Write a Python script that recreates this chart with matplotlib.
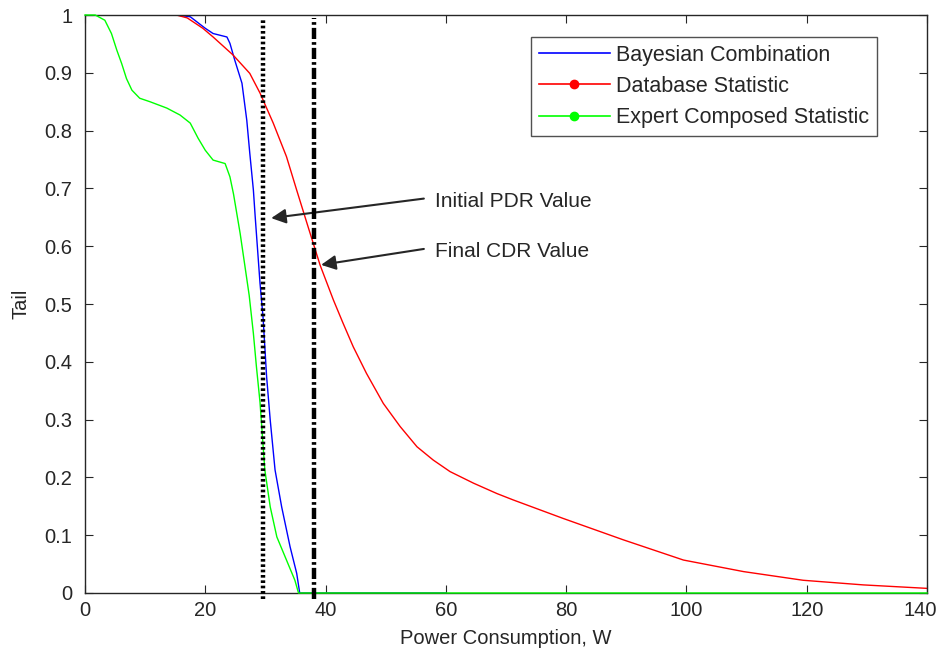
import matplotlib
matplotlib.use("Agg")
import matplotlib.pyplot as plt
from matplotlib.lines import Line2D
from matplotlib.transforms import ScaledTranslation

plt.rcParams['font.family'] = ['Liberation Sans', 'DejaVu Sans']

# Database Statistic (red)
red_x = [0, 15.2, 17, 19.6, 21.3, 24.6, 27.4, 29.1, 31.3, 33.5, 35.2, 37.2, 39.1, 41.3, 42.9,
         44.6, 46.8, 49.6, 52.4, 55.2, 57.9, 60.7, 64.6, 68.5, 71.2, 79.5, 89.5, 99.5, 109.5,
         119.4, 129.4, 140]
red_y = [1, 1, 0.995, 0.977, 0.962, 0.931, 0.899, 0.865, 0.813, 0.755, 0.697, 0.630, 0.567,
         0.507, 0.467, 0.426, 0.380, 0.328, 0.288, 0.253, 0.230, 0.210, 0.190, 0.172, 0.161,
         0.129, 0.092, 0.057, 0.037, 0.022, 0.014, 0.008]

# Bayesian Combination (blue)
blue_x = [0, 15.2, 17.5, 20.0, 21.3, 23.6, 24.1, 24.9, 26.1, 26.9, 27.4, 28.0, 28.3, 29.1,
          29.6, 30.2, 30.8, 31.6, 32.7, 34.1, 35.2, 35.7, 60]
blue_y = [1, 1, 0.997, 0.977, 0.968, 0.962, 0.951, 0.922, 0.882, 0.818, 0.761, 0.697, 0.651, 0.536,
          0.478, 0.374, 0.299, 0.213, 0.149, 0.080, 0.034, 0.0, 0.0]

# Expert Composed Statistic (green)
green_x = [0, 1.7, 3.3, 4.4, 5.3, 6.1, 6.9, 7.8, 9.1, 10.8, 13.6, 15.8, 17.5, 18.8, 20.0, 21.3,
           23.3, 24.1, 24.7, 25.8, 26.6, 27.3, 28.0, 28.5, 29.1, 29.9, 30.8, 31.9, 33.5, 34.9,
           35.5, 140]
green_y = [1, 1, 0.991, 0.968, 0.939, 0.916, 0.890, 0.870, 0.856, 0.850, 0.839, 0.827, 0.813,
           0.787, 0.766, 0.749, 0.743, 0.720, 0.690, 0.622, 0.565, 0.515, 0.449, 0.392, 0.330,
           0.213, 0.149, 0.097, 0.057, 0.022, 0.0, 0.0]

pdr_x = 29.6
cdr_x = 38.1
labels = ['Bayesian Combination', 'Database Statistic', 'Expert Composed Statistic']
ytick_labels = ['0', '0.1', '0.2', '0.3', '0.4', '0.5', '0.6', '0.7', '0.8', '0.9', '1']

fig = plt.figure(figsize=(9.38, 6.53), dpi=100)
ax = fig.add_axes([0.0906, 0.0919, 0.8977, 0.8851])

ax.plot(blue_x, blue_y, color='#0000ff', lw=1.0)
ax.plot(red_x, red_y, color='#ff0000', lw=1.0)
ax.plot(green_x, green_y, color='#00ff00', lw=1.0, clip_on=False, zorder=3)

ax.plot([pdr_x, pdr_x], [-0.01, 0.995], color='black', lw=3.2, linestyle=(0, (0.6, 0.6)),
        clip_on=False, zorder=4)
ax.plot([cdr_x, cdr_x], [-0.01, 0.995], color='black', lw=3.2, linestyle=(0, (2.5, 0.7, 0.6, 0.7)),
        clip_on=False, zorder=4)

ax.annotate('', xy=(30.5, 0.648), xytext=(56.8, 0.683),
            arrowprops=dict(arrowstyle='-|>', mutation_scale=22, color='#262626', lw=1.5))
ax.annotate('', xy=(38.8, 0.567), xytext=(56.8, 0.596),
            arrowprops=dict(arrowstyle='-|>', mutation_scale=22, color='#262626', lw=1.5))
ax.text(58.2, 0.678, 'Initial PDR Value', fontsize=15, va='center', ha='left', color='#262626')
ax.text(58.2, 0.591, 'Final CDR Value', fontsize=15, va='center', ha='left', color='#262626')

ax.set_xlim(0, 140)
ax.set_ylim(0, 1)
ax.set_xticks(range(0, 141, 20))
ax.set_yticks([i / 10 for i in range(11)])
ax.set_yticklabels(ytick_labels)
ax.tick_params(direction='in', top=True, right=True, labelsize=14.5, length=6, colors='#262626')
ax.tick_params(axis='y', pad=9)
ax.tick_params(axis='x', pad=6)
for s in ax.spines.values():
    s.set_color('#262626')
    s.set_linewidth(1.0)
ax.set_xlabel('Power Consumption, W', fontsize=14.5, color='#262626', labelpad=6)
ax.set_ylabel('Tail', fontsize=14.5, color='#262626', labelpad=10)

# shift the last x tick label so it stays inside the figure
last = ax.xaxis.get_major_ticks()[-1].label1
last.set_ha('right')
last.set_transform(last.get_transform() + ScaledTranslation(0.10, 0, fig.dpi_scale_trans))

handles = [Line2D([0, 0.5, 1], [0, 0, 0], color='#0000ff', lw=1.2),
           Line2D([0, 0.5, 1], [0, 0, 0], color='#ff0000', lw=1.2, marker='o', markersize=6,
                  markevery=[1]),
           Line2D([0, 0.5, 1], [0, 0, 0], color='#00ff00', lw=1.2, marker='o', markersize=6,
                  markevery=[1])]
leg = ax.legend(handles, labels, loc='upper right', bbox_to_anchor=(0.9406, 0.962),
                fontsize=15.5, frameon=True, fancybox=False, edgecolor='#262626',
                handlelength=3.3, borderpad=0.35, labelspacing=0.48, handletextpad=0.3,
                borderaxespad=0)
leg.get_frame().set_linewidth(1.0)
for t in leg.get_texts():
    t.set_color('#262626')

fig.savefig('out.png', dpi=100)
